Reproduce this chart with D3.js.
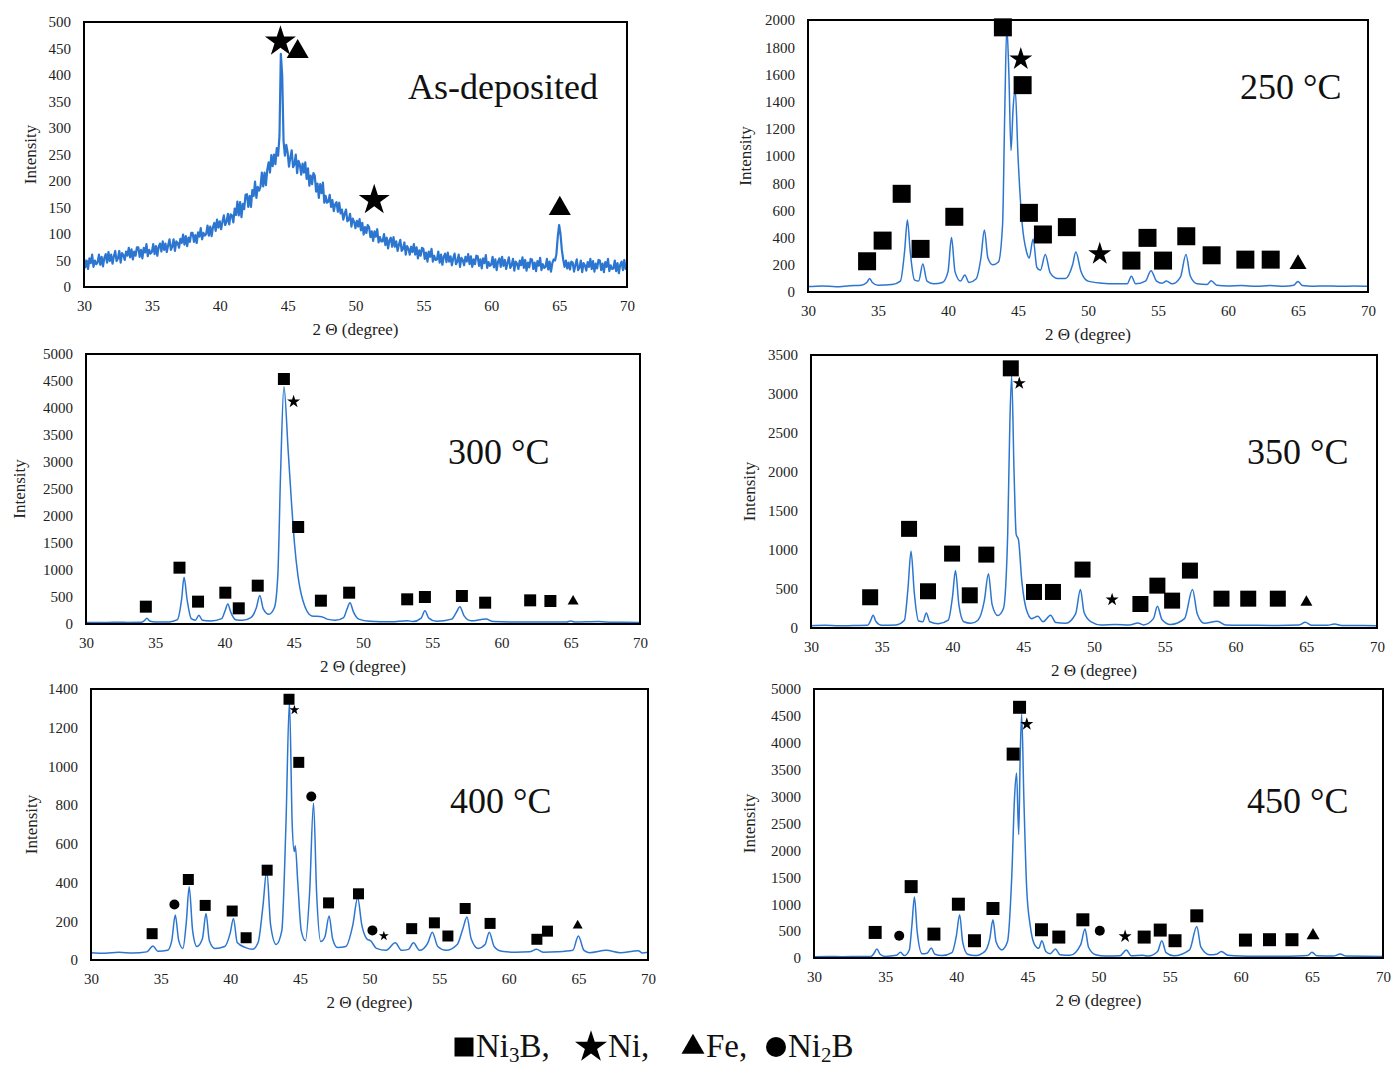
<!DOCTYPE html>
<html>
<head>
<meta charset="utf-8">
<script src="https://cdnjs.cloudflare.com/ajax/libs/d3/7.8.5/d3.min.js"></script>
<style>
  body { margin: 0; background: #fff; }
  text { font-family: "Liberation Serif", "Times New Roman", serif; }
</style>
</head>
<body>
<div id="chart"></div>
<script>

// x axis is the same for every panel
var xTicks = [30, 35, 40, 45, 50, 55, 60, 65, 70];

// as-deposited pattern, read every 0.1 degree from 30 to 70 (one row per degree)
var asDepStart = 30, asDepStep = 0.1;
var asDepCounts = [
  55,37,50,34,54,45,61,38,50,43,
  46,61,42,57,39,55,62,46,66,49,
  61,44,58,68,49,54,68,46,64,60,
  51,67,59,74,56,71,52,67,59,75,
  75,57,70,54,74,65,81,58,70,63,
  66,81,62,77,59,76,82,67,86,70,
  82,66,79,90,70,76,90,68,86,83,
  74,91,83,99,80,96,77,93,85,102,
  102,85,98,83,103,95,111,90,102,97,
  100,116,97,114,96,113,121,106,127,112,
  124,109,123,135,117,123,138,118,137,135,
  122,148,136,161,135,160,132,157,147,174,
  175,151,172,151,183,172,199,168,189,182,
  189,216,190,216,192,221,235,216,249,228,
  250,232,262,248,285,440,400,275,248,268,
  254,227,244,258,226,231,250,215,238,231,
  212,233,216,235,204,224,191,210,194,215,
  210,180,195,168,194,177,197,159,172,159,
  161,174,151,164,143,156,160,142,159,139,
  146,127,138,146,124,127,138,114,129,123,
  111,125,114,128,107,121,99,113,102,117,
  113,94,105,87,105,95,109,84,94,86,
  86,100,79,93,73,88,93,76,94,76,
  86,68,80,89,68,72,84,61,77,72,
  61,76,66,81,61,75,54,69,59,74,
  72,53,65,48,67,57,72,48,59,51,
  52,67,46,61,42,57,63,47,65,48,
  58,41,54,63,43,48,61,38,55,51,
  41,57,48,62,43,58,38,52,43,59,
  58,40,52,35,54,45,60,36,47,40,
  42,57,37,52,32,48,54,38,57,40,
  51,34,46,56,36,41,53,31,48,44,
  34,50,41,56,36,51,31,46,37,53,
  52,34,46,30,49,40,55,32,43,36,
  38,53,33,48,29,45,52,50,62,95,
  117,100,70,52,38,50,35,46,33,48,
  46,29,42,52,32,37,50,28,45,41,
  31,47,38,53,34,49,29,44,35,51,
  50,32,44,28,47,38,53,30,41,34,
  35,50,30,45,26,42,48,32,51,34,
  40
];
var asDeposited = asDepCounts.map(function(v, i) { return [asDepStart + i * asDepStep, v]; });

// annealed patterns: [2 theta, intensity]
var t250 = [
  [30,40],[31,45],[32,38],[33,46],[33.8,50],[34.2,70],[34.4,100],[34.6,70],[35,50],[36,55],
  [36.6,80],[36.9,300],[37.1,530],[37.3,300],[37.6,90],[37.9,80],[38.2,205],[38.5,80],[39,60],[39.6,70],
  [40.0,150],[40.25,400],[40.5,150],[40.9,80],[41.2,125],[41.5,70],[42,95],[42.35,250],[42.6,455],[42.85,250],
  [43.2,200],[43.6,220],[43.9,500],[44.05,1300],[44.2,1950],[44.35,1600],[44.5,1040],[44.65,1350],[44.8,1490],[45.0,1000],
  [45.3,500],[45.6,300],[45.8,250],[46.08,390],[46.35,180],[46.6,160],[46.95,275],[47.3,140],[47.8,100],[48.4,100],
  [48.9,200],[49.13,295],[49.5,150],[50,80],[51,65],[52,60],[52.8,60],[53.1,115],[53.4,60],[54.1,80],
  [54.5,157],[54.9,80],[55.3,65],[55.6,80],[56,60],[56.6,110],[57.0,275],[57.3,120],[57.8,60],[58.5,55],
  [58.8,83],[59.2,50],[60,45],[61,48],[62,42],[63,48],[64,42],[64.7,50],[65,78],[65.3,48],
  [66,42],[67,45],[68,42],[69,44],[70,42]
];

var t300 = [
  [30,30],[31,28],[32,32],[33,30],[34,33],[34.2,60],[34.4,105],[34.6,55],[35,35],[36,38],
  [36.6,80],[36.9,450],[37.08,864],[37.3,450],[37.6,100],[37.9,70],[38.15,160],[38.4,70],[39,55],[39.8,100],
  [40.05,250],[40.24,370],[40.45,220],[40.8,80],[41.3,70],[41.9,120],[42.3,300],[42.55,530],[42.8,280],[43.2,180],
  [43.6,300],[43.85,900],[44.05,2800],[44.29,4395],[44.6,3200],[44.85,2200],[45.05,1500],[45.3,900],[45.65,444],[46.3,150],
  [47.02,136],[47.4,90],[48,70],[48.6,120],[48.85,280],[49.06,395],[49.3,230],[49.7,90],[50.5,50],[52,40],
  [53.2,62],[53.6,45],[54.2,110],[54.47,247],[54.75,110],[55.3,50],[56.4,90],[56.75,220],[56.99,320],[57.3,150],
  [57.8,60],[58.88,92],[59.4,45],[61,35],[63,35],[64.7,35],[65,55],[65.3,35],[67,45],[68,32],[70,30]
];

var t350 = [
  [30,30],[31,35],[32,28],[33,32],[34,35],[34.2,90],[34.39,163],[34.6,80],[35,35],[36,40],
  [36.6,100],[36.85,500],[37.07,984],[37.3,450],[37.6,90],[37.9,80],[38.15,193],[38.4,80],[39,55],[39.7,100],
  [40.0,400],[40.21,736],[40.45,300],[40.8,80],[41.3,60],[41.8,100],[42.25,350],[42.54,697],[42.8,300],[43.2,160],
  [43.6,250],[43.9,1200],[44.05,2600],[44.18,3230],[44.35,2000],[44.5,1200],[44.66,1134],[44.9,600],[45.2,250],[45.6,120],
  [46.03,150],[46.4,80],[46.93,163],[47.3,70],[48,60],[48.7,180],[49.04,492],[49.3,200],[49.8,80],[50.5,40],
  [51.5,45],[52.5,40],[53.1,64],[53.5,40],[54.2,120],[54.48,278],[54.8,110],[55.4,45],[56.4,120],[56.96,492],
  [57.3,180],[57.8,60],[58.72,86],[59.3,40],[61,35],[63,33],[64.5,38],[64.93,73],[65.4,35],[66.5,35],
  [67,51],[67.5,33],[70,30]
];

var t400 = [
  [30,38],[31,35],[32,40],[33,36],[34,42],[34.45,72],[34.8,45],[35.5,50],[35.8,100],[36.05,232],
  [36.3,100],[36.6,60],[36.85,200],[37.05,378],[37.3,150],[37.6,70],[38.0,110],[38.26,240],[38.5,100],[38.9,60],
  [39.6,70],[40.0,140],[40.23,215],[40.5,90],[41.1,64],[41.6,55],[42.0,90],[42.35,280],[42.62,462],[42.9,180],
  [43.3,80],[43.7,150],[44.0,700],[44.25,1335],[44.45,700],[44.6,560],[44.67,590],[44.85,400],[45.1,150],[45.4,100],
  [45.7,350],[45.98,811],[46.2,350],[46.5,95],[46.8,120],[47.1,227],[47.35,110],[47.7,65],[48.3,70],[48.8,180],
  [49.15,321],[49.45,180],[49.8,110],[50.1,98],[50.5,60],[51.2,50],[51.85,89],[52.3,50],[52.8,55],[53.15,89],
  [53.6,50],[54.2,90],[54.51,144],[54.9,70],[55.5,50],[56.3,80],[56.7,160],[57.0,222],[57.3,110],[57.8,60],
  [58.3,80],[58.6,144],[58.95,70],[59.5,45],[60.5,40],[61.5,42],[62.0,55],[62.5,40],[63.5,42],[64.6,50],
  [65.0,124],[65.4,50],[65.8,38],[67.0,50],[68,38],[69.3,48],[69.6,36],[70,40]
];

var t450 = [
  [30,25],[31,28],[32,24],[33,27],[34,30],[34.2,80],[34.42,167],[34.65,70],[35,30],[35.8,50],
  [36.08,105],[36.35,45],[36.7,150],[36.88,600],[37.06,1136],[37.25,500],[37.6,80],[37.95,90],[38.25,185],[38.5,70],
  [39,45],[39.7,100],[40.0,400],[40.24,802],[40.45,300],[40.8,70],[41.3,45],[42.0,120],[42.35,350],[42.58,710],
  [42.8,300],[43.2,150],[43.6,300],[43.9,1500],[44.1,3000],[44.24,3438],[44.39,2296],[44.5,3800],[44.6,4531],[44.75,3000],
  [44.95,1300],[45.2,600],[45.5,250],[45.8,180],[46.02,321],[46.3,120],[46.6,80],[46.97,167],[47.3,60],[48,50],
  [48.75,250],[49.05,537],[49.3,200],[49.8,60],[50.5,35],[51.5,40],[51.96,148],[52.3,40],[53.1,50],[53.5,35],
  [54.15,120],[54.45,321],[54.75,100],[55.3,40],[56.4,150],[56.91,586],[57.2,200],[57.8,60],[58.3,70],[58.63,123],
  [59.1,50],[60,35],[62,32],[64,35],[64.7,45],[65.01,105],[65.35,40],[66.5,35],[67,74],[67.4,35],[70,30]
];

// phase markers: [phase, 2 theta, intensity]
var marksAsDep = [["Ni",44.47,463],["Fe",45.74,444],["Ni",51.38,164],["Fe",65.05,148]];

var marks250 = [
  ["Ni3B",43.92,1946],["Ni",45.2,1712],["Ni3B",45.33,1521],["Ni3B",36.69,722],["Ni3B",40.45,553],
  ["Ni3B",35.33,378],["Ni3B",34.22,226],["Ni3B",38.04,317],["Ni3B",45.78,582],["Ni3B",46.78,423],
  ["Ni3B",48.49,477],["Ni",50.84,280],["Ni3B",53.1,231],["Ni3B",54.25,398],["Ni3B",55.36,231],
  ["Ni3B",57.02,410],["Ni3B",58.83,270],["Ni3B",61.24,238],["Ni3B",63.05,238],["Fe",65.0,205]
];

var marks300 = [
  ["Ni3B",34.32,321],["Ni3B",36.75,1043],["Ni3B",38.09,414],["Ni3B",40.06,580],["Ni3B",41.03,290],
  ["Ni3B",42.4,710],["Ni3B",44.29,4537],["Ni",44.99,4117],["Ni3B",45.32,1796],["Ni3B",46.96,432],
  ["Ni3B",49.0,580],["Ni3B",53.19,457],["Ni3B",54.47,500],["Ni3B",57.14,519],["Ni3B",58.82,395],
  ["Ni3B",62.07,438],["Ni3B",63.53,426],["Fe",65.17,420]
];

var marks350 = [
  ["Ni3B",34.18,394],["Ni3B",36.93,1271],["Ni3B",38.27,471],["Ni3B",39.97,954],["Ni3B",41.22,419],
  ["Ni3B",42.39,941],["Ni3B",44.12,3329],["Ni",44.72,3137],["Ni3B",45.76,462],["Ni3B",47.1,462],
  ["Ni3B",49.19,749],["Ni",51.28,364],["Ni3B",53.28,308],["Ni3B",54.48,543],["Ni3B",55.52,351],
  ["Ni3B",56.78,736],["Ni3B",59.01,376],["Ni3B",60.9,376],["Ni3B",62.99,376],["Fe",65.01,330]
];

var marks400 = [
  ["Ni3B",34.39,136],["Ni2B",35.99,287],["Ni3B",36.99,416],["Ni3B",38.2,282],["Ni3B",40.14,253],
  ["Ni3B",41.14,115],["Ni3B",42.65,464],["Ni3B",44.22,1347],["Ni",44.61,1292],["Ni3B",44.92,1021],
  ["Ni2B",45.82,845],["Ni3B",47.06,295],["Ni3B",49.21,342],["Ni2B",50.21,153],["Ni",51.03,124],
  ["Ni3B",53.03,162],["Ni3B",54.66,192],["Ni3B",55.63,124],["Ni3B",56.87,266],["Ni3B",58.66,189],
  ["Ni3B",62.02,107],["Ni3B",62.78,149],["Fe",64.95,178]
];

var marks450 = [
  ["Ni3B",34.3,475],["Ni2B",35.99,414],["Ni3B",36.83,1327],["Ni3B",38.43,444],["Ni3B",40.15,1000],
  ["Ni3B",41.28,321],["Ni3B",42.58,920],["Ni3B",44.0,3790],["Ni3B",44.45,4660],["Ni",44.96,4346],
  ["Ni3B",45.99,525],["Ni3B",47.21,389],["Ni3B",48.9,710],["Ni2B",50.09,506],["Ni",51.87,401],
  ["Ni3B",53.21,389],["Ni3B",54.34,519],["Ni3B",55.38,321],["Ni3B",56.91,784],["Ni3B",60.33,333],
  ["Ni3B",62.02,340],["Ni3B",63.6,340],["Fe",65.08,420]
];

var titles = ["As-deposited", "250 °C", "300 °C", "350 °C", "400 °C", "450 °C"];
var yMaxes = [500, 2000, 5000, 3500, 1400, 5000];
var yStepsList = [50, 200, 500, 500, 200, 500];

// layout of each panel (pixels), marker sizes per phase
var panels = [
  {left: 84,  right: 627,  top: 22,  bottom: 287, titleX: 408,  titleY: 99,  labelX: 30,  data: asDeposited, marks: marksAsDep, noisy: true,
   size: {Ni3B: 18, Ni: 31, Fe: 22, Ni2B: 10}},
  {left: 808, right: 1368, top: 20,  bottom: 292, titleX: 1240, titleY: 99,  labelX: 745, data: t250, marks: marks250,
   size: {Ni3B: 18, Ni: 23, Fe: 17, Ni2B: 10}},
  {left: 86,  right: 640,  top: 354, bottom: 624, titleX: 448,  titleY: 464, labelX: 19,  data: t300, marks: marks300,
   size: {Ni3B: 12, Ni: 13, Fe: 11, Ni2B: 10}},
  {left: 811, right: 1377, top: 355, bottom: 628, titleX: 1247, titleY: 464, labelX: 749, data: t350, marks: marks350,
   size: {Ni3B: 16, Ni: 13, Fe: 12, Ni2B: 10}},
  {left: 91,  right: 648,  top: 689, bottom: 960, titleX: 450,  titleY: 813, labelX: 31,  data: t400, marks: marks400,
   size: {Ni3B: 11, Ni: 10, Fe: 10, Ni2B: 10}},
  {left: 814, right: 1383, top: 689, bottom: 958, titleX: 1247, titleY: 813, labelX: 749, data: t450, marks: marks450,
   size: {Ni3B: 13, Ni: 13, Fe: 13, Ni2B: 10}}
];

var shapes = {Ni3B: "square", Ni: "star", Fe: "triangle", Ni2B: "circle"};

var lineColor = "#2c76d0";

var svg = d3.select("#chart").append("svg")
    .attr("width", 1392)
    .attr("height", 1066);

svg.append("rect").attr("width", 1392).attr("height", 1066).attr("fill", "#fff");

// d3 symbols take an area, we think in pixel widths
function symbolPath(shape, w) {
  var type, area;
  if (shape == "square") { type = d3.symbolSquare; area = w * w; }
  else if (shape == "star") { type = d3.symbolStar; var r = w / 1.9; area = r * r / 0.8908130915; }
  else if (shape == "triangle") { type = d3.symbolTriangle; area = Math.sqrt(3) / 4 * w * w; }
  else { type = d3.symbolCircle; area = Math.PI * w * w / 4; }
  return d3.symbol().type(type).size(area)();
}

panels.forEach(function(p, i) {

  var x = d3.scaleLinear().domain([30, 70]).range([p.left, p.right]);
  var y = d3.scaleLinear().domain([0, yMaxes[i]]).range([p.bottom, p.top]);

  var g = svg.append("g");

  g.append("clipPath").attr("id", "clip" + i)
    .append("rect")
      .attr("x", p.left).attr("y", p.top)
      .attr("width", p.right - p.left).attr("height", p.bottom - p.top);

  // the pattern
  var line = d3.line()
      .x(function(d) { return x(d[0]); })
      .y(function(d) { return y(d[1]); })
      .curve(p.noisy ? d3.curveLinear : d3.curveMonotoneX);

  g.append("path")
      .datum(p.data)
      .attr("clip-path", "url(#clip" + i + ")")
      .attr("fill", "none")
      .attr("stroke", lineColor)
      .attr("stroke-width", p.noisy ? 2.2 : 1.5)
      .attr("stroke-linejoin", "round")
      .attr("d", line);

  // frame
  g.append("rect")
      .attr("x", p.left).attr("y", p.top)
      .attr("width", p.right - p.left).attr("height", p.bottom - p.top)
      .attr("fill", "none")
      .attr("stroke", "#000")
      .attr("stroke-width", 2);

  // axes
  var yTicks = d3.range(0, yMaxes[i] + 1, yStepsList[i]);

  var xa = g.append("g")
      .attr("transform", "translate(0," + p.bottom + ")")
      .call(d3.axisBottom(x).tickValues(xTicks).tickFormat(d3.format("d")).tickSize(0).tickPadding(13));
  var ya = g.append("g")
      .attr("transform", "translate(" + p.left + ",0)")
      .call(d3.axisLeft(y).tickValues(yTicks).tickFormat(d3.format("d")).tickSize(0).tickPadding(13));

  [xa, ya].forEach(function(a) {
    a.select(".domain").remove();
    a.attr("font-family", "Liberation Serif").attr("font-size", 15);
    a.selectAll("text").attr("fill", "#222");
  });

  // axis titles
  g.append("text")
      .attr("x", (p.left + p.right) / 2)
      .attr("y", p.bottom + 48)
      .attr("text-anchor", "middle")
      .attr("font-size", 17)
      .attr("fill", "#222")
      .text("2 Θ (degree)");

  g.append("text")
      .attr("transform", "translate(" + p.labelX + "," + ((p.top + p.bottom) / 2) + ") rotate(-90)")
      .attr("dy", "0.35em")
      .attr("text-anchor", "middle")
      .attr("font-size", 17)
      .attr("fill", "#222")
      .text("Intensity");

  // panel title
  g.append("text")
      .attr("x", p.titleX)
      .attr("y", p.titleY)
      .attr("font-size", 36)
      .attr("fill", "#111")
      .text(titles[i]);

  // phase markers
  g.selectAll(".mark")
      .data(p.marks)
    .enter().append("path")
      .attr("class", "mark")
      .attr("transform", function(d) { return "translate(" + x(d[1]) + "," + y(d[2]) + ")"; })
      .attr("d", function(d) { return symbolPath(shapes[d[0]], p.size[d[0]]); })
      .attr("fill", "#000");
});

// legend at the bottom
var legendItems = [
  {phase: "Ni3B", sx: 464, tx: 476, base: "Ni", sub: "3", rest: "B,", w: 19},
  {phase: "Ni",   sx: 591, tx: 608, base: "Ni,", sub: "", rest: "", w: 32},
  {phase: "Fe",   sx: 693, tx: 706, base: "Fe,", sub: "", rest: "", w: 23},
  {phase: "Ni2B", sx: 776, tx: 788, base: "Ni", sub: "2", rest: "B", w: 20}
];

var legend = svg.append("g");

legendItems.forEach(function(it) {
  legend.append("path")
      .attr("transform", "translate(" + it.sx + ",1047)")
      .attr("d", symbolPath(shapes[it.phase], it.w))
      .attr("fill", "#000");

  var t = legend.append("text")
      .attr("x", it.tx)
      .attr("y", 1057)
      .attr("font-size", 33)
      .attr("fill", "#111");
  t.append("tspan").text(it.base);
  if (it.sub) {
    t.append("tspan").attr("font-size", 21).attr("dy", 5).text(it.sub);
    t.append("tspan").attr("dy", -5).text(it.rest);
  }
});

</script>
</body>
</html>
